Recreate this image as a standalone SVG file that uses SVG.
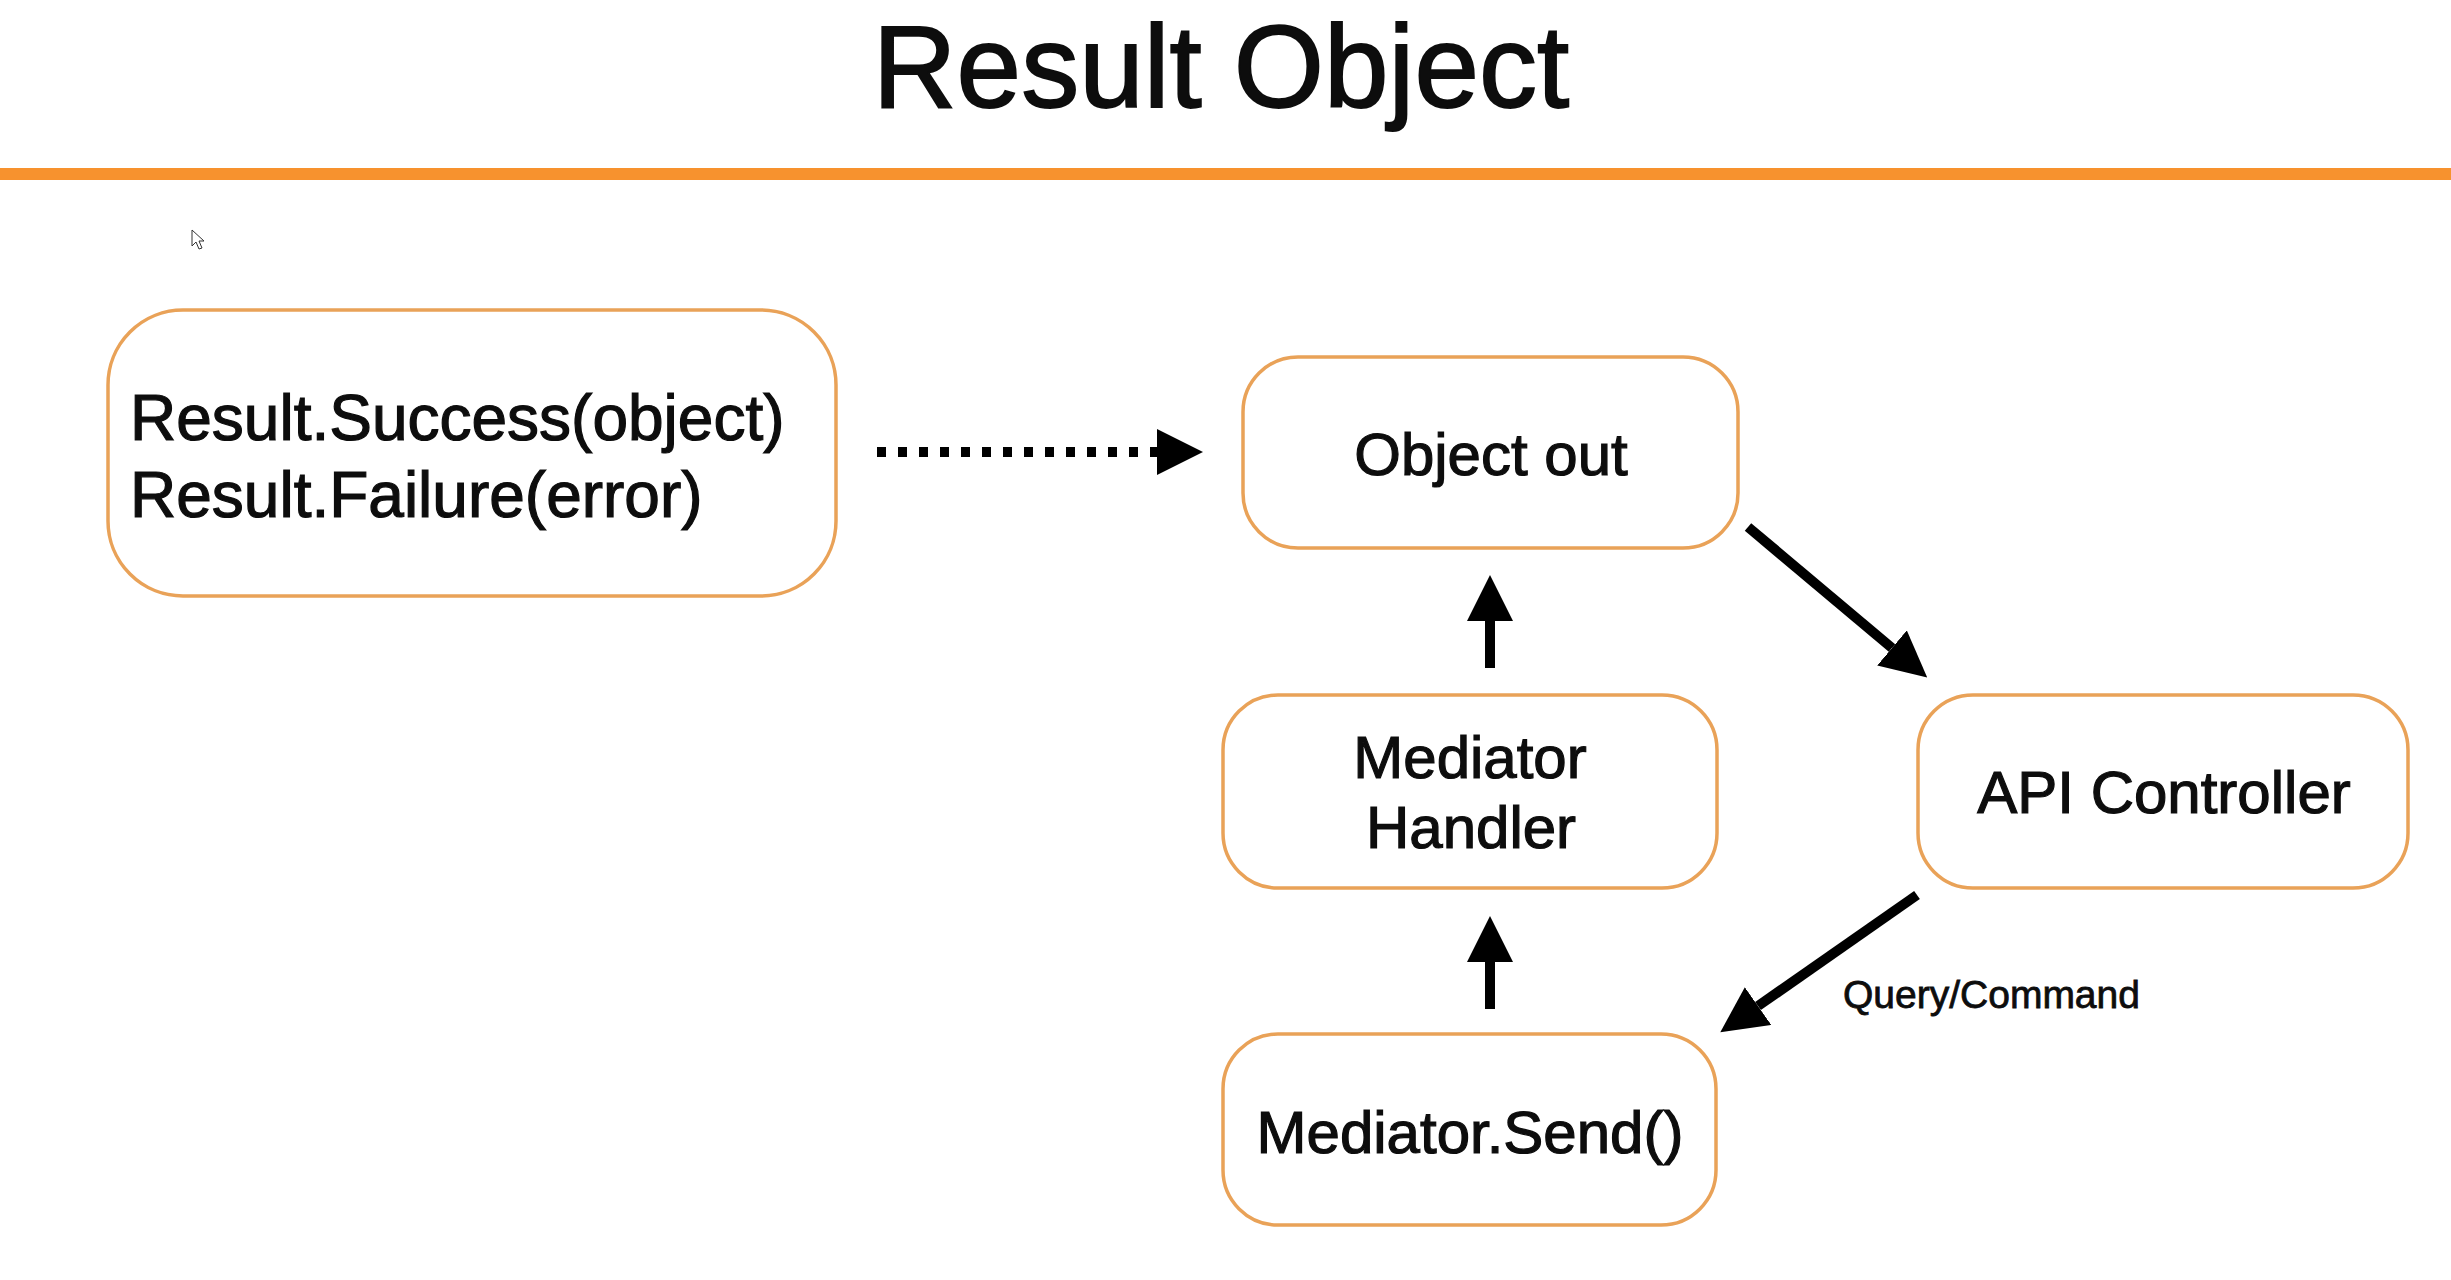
<svg xmlns="http://www.w3.org/2000/svg" width="2451" height="1280" viewBox="0 0 2451 1280">
<style>
.box{fill:#fff;stroke:#E9A258;stroke-width:3.5}
.t{font-family:"Liberation Sans",Arial,Helvetica,sans-serif;fill:#0d0d0d;stroke:#0d0d0d;stroke-width:1.2}
.n{font-size:60px;text-anchor:middle}
.ln{stroke:#000;stroke-width:10;fill:none}
</style>
<defs>
<marker id="ah" viewBox="0 0 46 46" refX="0" refY="23" markerWidth="46" markerHeight="46" markerUnits="userSpaceOnUse" orient="auto">
<path d="M0,0 L46,23 L0,46 Z" fill="#000"/>
</marker>
</defs>
<rect width="2451" height="1280" fill="#fff"/>
<g id="title">
<text class="t" x="1221" y="107" font-size="116" text-anchor="middle" style="stroke-width:1.8">Result Object</text>
<rect x="0" y="168" width="2451" height="12" fill="#F7922E"/>
</g>
<g id="cursor">
<path d="M192,230 L192,246 L196,242 L199,249 L202,248 L199,241 L204,241 Z" fill="#fff" stroke="#333" stroke-width="1"/>
</g>
<g id="node-result">
<rect class="box" x="108" y="310" width="728" height="286" rx="75"/>
<text class="t" x="130" y="440" font-size="64">Result.Success(object)</text>
<text class="t" x="130" y="517" font-size="64">Result.Failure(error)</text>
</g>
<g id="node-object-out">
<rect class="box" x="1243" y="357" width="495" height="191" rx="55"/>
<text class="t n" x="1491" y="475">Object out</text>
</g>
<g id="node-mediator-handler">
<rect class="box" x="1223" y="695" width="494" height="193" rx="55"/>
<text class="t n" x="1470" y="778">Mediator</text>
<text class="t n" x="1471" y="848">Handler</text>
</g>
<g id="node-api-controller">
<rect class="box" x="1918" y="695" width="490" height="193" rx="55"/>
<text class="t n" x="2164" y="813">API Controller</text>
</g>
<g id="node-mediator-send">
<rect class="box" x="1223" y="1034" width="493" height="191" rx="55"/>
<text class="t n" x="1470" y="1153">Mediator.Send()</text>
</g>
<g id="connectors">
<path d="M877,452 L1157,452" stroke="#000" stroke-width="10" stroke-dasharray="9 12" fill="none" marker-end="url(#ah)"/>
<path class="ln" d="M1490,668 L1490,621" marker-end="url(#ah)"/>
<path class="ln" d="M1490,1009 L1490,962" marker-end="url(#ah)"/>
<path class="ln" d="M1748,527 L1892,648" marker-end="url(#ah)"/>
<path class="ln" d="M1917,895 L1758,1006" marker-end="url(#ah)"/>
<text class="t" x="1843" y="1008" font-size="39" style="stroke-width:0.8">Query/Command</text>
</g>
</svg>
